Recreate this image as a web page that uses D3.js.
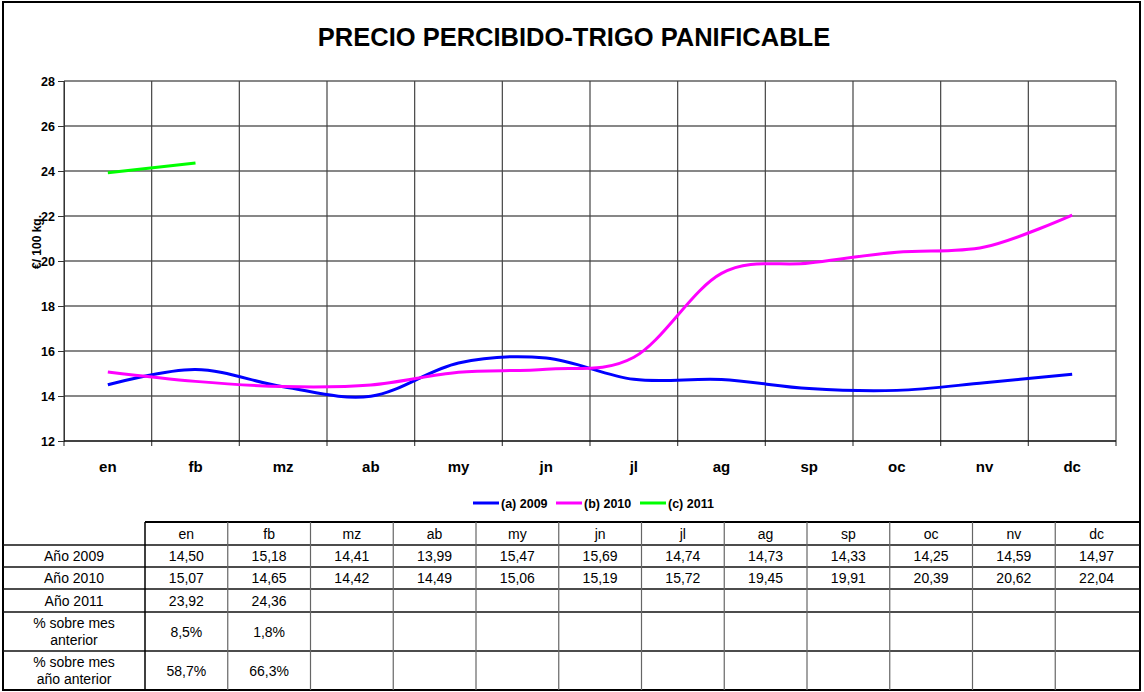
<!DOCTYPE html>
<html>
<head>
<meta charset="utf-8">
<script src="https://cdn.jsdelivr.net/npm/d3@7"></script>
<style>
  body { margin: 0; background: #fff; }
  text { font-family: Arial, "Liberation Sans", sans-serif; }
</style>
</head>
<body>
<div id="chart"></div>
<script>
const months = ["en", "fb", "mz", "ab", "my", "jn", "jl", "ag", "sp", "oc", "nv", "dc"];
const values2009 = [14.50, 15.18, 14.41, 13.99, 15.47, 15.69, 14.74, 14.73, 14.33, 14.25, 14.59, 14.97];
const values2010 = [15.07, 14.65, 14.42, 14.49, 15.06, 15.19, 15.72, 19.45, 19.91, 20.39, 20.62, 22.04];
const values2011 = [23.92, 24.36];
const pctMesAnterior = ["8,5%", "1,8%"];
const pctAnioAnterior = ["58,7%", "66,3%"];
const yTicks = [12, 14, 16, 18, 20, 22, 24, 26, 28];

const series = [
  { name: "(a) 2009", values: values2009, color: "#0000ff" },
  { name: "(b) 2010", values: values2010, color: "#ff00ff" },
  { name: "(c) 2011", values: values2011, color: "#00ff00" }
];

const width = 1144;
const height = 692;

const svg = d3.select("#chart").append("svg")
  .attr("width", width)
  .attr("height", height);

// marco exterior
svg.append("rect")
  .attr("x", 3).attr("y", 2)
  .attr("width", 1137).attr("height", 688)
  .attr("fill", "#fff")
  .attr("stroke", "#000")
  .attr("stroke-width", 2);

svg.append("text")
  .attr("x", 574).attr("y", 46)
  .attr("text-anchor", "middle")
  .attr("font-size", 25.5)
  .attr("font-weight", "bold")
  .text("PRECIO PERCIBIDO-TRIGO PANIFICABLE");

const x = d3.scaleBand().domain(months).range([64, 1116]);
const y = d3.scaleLinear().domain([12, 28]).range([441, 81]);

const plot = svg.append("g");

// rejilla horizontal
plot.selectAll(".hgrid")
  .data(yTicks)
  .enter()
  .append("line")
  .attr("x1", 64).attr("x2", 1116)
  .attr("y1", d => y(d)).attr("y2", d => y(d))
  .attr("stroke", "#111")
  .attr("stroke-width", 1.2);

// rejilla vertical
const bounds = months.map(m => x(m)).concat([x.range()[1]]);
plot.selectAll(".vgrid")
  .data(bounds)
  .enter()
  .append("line")
  .attr("x1", d => d).attr("x2", d => d)
  .attr("y1", 81).attr("y2", 446)
  .attr("stroke", "#444")
  .attr("stroke-width", 1.2);

// eje y
const yAxis = d3.axisLeft(y).tickValues(yTicks).tickSize(6).tickPadding(3);
const gy = svg.append("g").attr("transform", "translate(64,0)").call(yAxis);
gy.select(".domain").attr("stroke", "#333");
gy.selectAll(".tick line").attr("stroke", "#333");
gy.selectAll("text")
  .attr("font-size", 12.5)
  .attr("font-weight", "bold")
  .attr("fill", "#000")
  .style("font-family", "Arial, 'Liberation Sans', sans-serif");

// eje x
svg.append("line")
  .attr("x1", 64).attr("x2", 1116)
  .attr("y1", 441).attr("y2", 441)
  .attr("stroke", "#000")
  .attr("stroke-width", 1.2);

svg.selectAll(".xlab")
  .data(months)
  .enter()
  .append("text")
  .attr("x", d => x(d) + x.bandwidth() / 2)
  .attr("y", 472)
  .attr("text-anchor", "middle")
  .attr("font-size", 15)
  .attr("font-weight", "bold")
  .text(d => d);

svg.append("text")
  .attr("transform", "translate(41,242) rotate(-90)")
  .attr("text-anchor", "middle")
  .attr("font-size", 12)
  .attr("font-weight", "bold")
  .text("€/ 100 kg.");

// lineas
const line = d3.line()
  .x((d, i) => x(months[i]) + x.bandwidth() / 2)
  .y(d => y(d))
  .curve(d3.curveCardinal.tension(0));

svg.selectAll(".serie")
  .data(series)
  .enter()
  .append("path")
  .attr("d", d => line(d.values))
  .attr("fill", "none")
  .attr("stroke", d => d.color)
  .attr("stroke-width", 3);

// leyenda
const legendX = [473, 556, 640];
const legend = svg.selectAll(".legend")
  .data(series)
  .enter()
  .append("g")
  .attr("transform", (d, i) => `translate(${legendX[i]},503)`);
legend.append("line")
  .attr("x1", 0).attr("x2", 26)
  .attr("stroke", d => d.color)
  .attr("stroke-width", 3);
legend.append("text")
  .attr("x", 28).attr("y", 4.5)
  .attr("font-size", 12.5)
  .attr("font-weight", "bold")
  .text(d => d.name);

// tabla de datos
const colX = d3.scaleBand().domain(months).range([145, 1138]);
const rowY = [522, 545, 567, 589, 612, 651, 690];
const fmt = v => d3.format(".2f")(v).replace(".", ",");

const rows = [
  { label: ["Año 2009"], cells: values2009.map(fmt) },
  { label: ["Año 2010"], cells: values2010.map(fmt) },
  { label: ["Año 2011"], cells: values2011.map(fmt) },
  { label: ["% sobre mes", "anterior"], cells: pctMesAnterior },
  { label: ["% sobre mes", "año anterior"], cells: pctAnioAnterior }
];

const table = svg.append("g");

table.append("line")
  .attr("x1", 145).attr("x2", 1140)
  .attr("y1", rowY[0]).attr("y2", rowY[0])
  .attr("stroke", "#000").attr("stroke-width", 2);
table.selectAll(".hrule")
  .data(rowY.slice(1, -1))
  .enter()
  .append("line")
  .attr("x1", 3).attr("x2", 1140)
  .attr("y1", d => d).attr("y2", d => d)
  .attr("stroke", "#111").attr("stroke-width", 1.3);

table.selectAll(".vrule")
  .data(months.map(m => colX(m)))
  .enter()
  .append("line")
  .attr("x1", d => d).attr("x2", d => d)
  .attr("y1", rowY[0]).attr("y2", 690)
  .attr("stroke", (d, i) => i === 0 ? "#000" : "#666")
  .attr("stroke-width", (d, i) => i === 0 ? 1.5 : 1.2);

table.selectAll(".head")
  .data(months)
  .enter()
  .append("text")
  .attr("x", d => colX(d) + colX.bandwidth() / 2)
  .attr("y", rowY[0] + 17)
  .attr("text-anchor", "middle")
  .attr("font-size", 14)
  .text(d => d);

rows.forEach((r, ri) => {
  const top = rowY[ri + 1];
  const bottom = rowY[ri + 2];
  const mid = (top + bottom) / 2;
  r.label.forEach((t, li) => {
    table.append("text")
      .attr("x", 74)
      .attr("y", mid + 5 + (li - (r.label.length - 1) / 2) * 17)
      .attr("text-anchor", "middle")
      .attr("font-size", 14)
      .text(t);
  });
  table.selectAll(null)
    .data(r.cells)
    .enter()
    .append("text")
    .attr("x", (d, i) => colX(months[i]) + colX.bandwidth() / 2)
    .attr("y", mid + 5)
    .attr("text-anchor", "middle")
    .attr("font-size", 14)
    .text(d => d);
});
</script>
</body>
</html>
